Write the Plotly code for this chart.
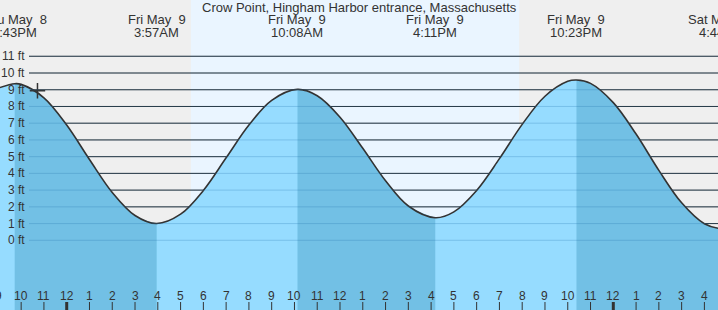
import math
from datetime import datetime
import plotly.graph_objects as go

# ---------------- data ----------------
TITLE = "Crow Point, Hingham Harbor entrance, Massachusetts"
REF_MIDNIGHT = "2025-05-09 00:00"

extreme_times = ["2025-05-08 21:43", "2025-05-09 03:57", "2025-05-09 10:08",
                 "2025-05-09 16:11", "2025-05-09 22:23", "2025-05-10 04:44"]
extreme_levels = [9.36, 1.00, 9.02, 1.35, 9.58, 0.70]
extreme_types = ["H", "L", "H", "L", "H", "L"]

# water level (hours after midnight May 9, feet)
reading_hours = [-3, -2, -1, 0, 1, 2, 3, 5, 6, 7, 8, 9, 11, 12, 13, 14, 15,
                 17, 18, 19, 20, 21, 22, 23, 24, 25, 26, 27, 28, 29]
reading_levels = [9.10, 9.32, 8.52, 6.89, 4.83, 2.86, 1.48, 1.56, 2.98, 4.93,
                  6.89, 8.37, 8.64, 7.36, 5.50, 3.56, 2.05, 1.70, 2.98, 4.88,
                  6.93, 8.61, 9.50, 9.38, 8.23, 6.35, 4.18, 2.24, 0.99, 0.74]

now_time = "2025-05-08 22:43"
now_level = 8.94

sunrise = "2025-05-09 05:27"
sunset = "2025-05-09 19:52"

y_levels = [0, 1, 2, 3, 4, 5, 6, 7, 8, 9, 10, 11]
tick_hours = list(range(-3, 29))

# ---------------- style ----------------
W, H = 718, 310
X_RANGE = [-2.929, 28.597]
Y_RANGE = [-4.166, 14.364]
FONT = "Liberation Sans, Arial, sans-serif"
TXT = "#333333"
NIGHT = "#efefef"
DAY = "#eaf5ff"
WATER = "#96dcff"
WATER_DARK = "#72c0e5"

ref = datetime.strptime(REF_MIDNIGHT, "%Y-%m-%d %H:%M")


def to_h(s):
    d = datetime.strptime(s, "%Y-%m-%d %H:%M")
    return (d - ref).total_seconds() / 3600.0


def to_paper(h):
    return (h - X_RANGE[0]) / (X_RANGE[1] - X_RANGE[0])


ext_h = [to_h(s) for s in extreme_times]
pts = sorted(list(zip(reading_hours, reading_levels)) + list(zip(ext_h, extreme_levels)))
xs = [p[0] for p in pts]
ys = [p[1] for p in pts]
base = Y_RANGE[0] - 1

fig = go.Figure()
# light water
fig.add_trace(go.Scatter(x=[xs[0], xs[-1]], y=[base, base], mode="lines",
                         line=dict(width=0), hoverinfo="skip", showlegend=False))
fig.add_trace(go.Scatter(x=xs, y=ys, mode="lines", line=dict(width=0, shape="spline"),
                         fill="tonexty", fillcolor=WATER, hoverinfo="skip", showlegend=False))
# dark (falling tide) water
for i in range(len(ext_h) - 1):
    if extreme_types[i] == "H":
        a, b = ext_h[i], ext_h[i + 1]
        sx = [x for x in xs if a <= x <= b]
        sy = [y for x, y in zip(xs, ys) if a <= x <= b]
        fig.add_trace(go.Scatter(x=[a, b], y=[base, base], mode="lines",
                                 line=dict(width=0), hoverinfo="skip", showlegend=False))
        fig.add_trace(go.Scatter(x=sx, y=sy, mode="lines", line=dict(width=0, shape="spline"),
                                 fill="tonexty", fillcolor=WATER_DARK,
                                 hoverinfo="skip", showlegend=False))
# outline
fig.add_trace(go.Scatter(x=xs, y=ys, mode="lines",
                         line=dict(color=TXT, width=1.6, shape="spline"),
                         hoverinfo="skip", showlegend=False))
# current time marker
fig.add_trace(go.Scatter(x=[to_h(now_time)], y=[now_level], mode="markers",
                         marker=dict(symbol="cross-thin", size=11,
                                     line=dict(color=TXT, width=1.5)),
                         hoverinfo="skip", showlegend=False))

shapes = []
shapes.append(dict(type="rect", xref="x", yref="paper", x0=to_h(sunrise), x1=to_h(sunset),
                   y0=0, y1=1, fillcolor=DAY, line=dict(width=0), layer="below"))
gx0 = 29 / W
for lv in y_levels:
    shapes.append(dict(type="line", xref="paper", yref="y", x0=gx0, x1=1, y0=lv, y1=lv,
                       line=dict(color="#2a2a2a", width=1), layer="below"))
for lv in y_levels:
    shapes.append(dict(type="line", xref="paper", yref="y", x0=gx0, x1=1, y0=lv, y1=lv,
                       line=dict(color="rgba(30,110,170,0.25)", width=1), layer="above"))
for h in tick_hours:
    shapes.append(dict(type="line", xref="x", yref="paper", x0=h, x1=h, y0=0, y1=8 / H,
                       line=dict(color=TXT, width=3 if h % 24 == 0 else 1), layer="above"))

ann = []
ann.append(dict(text=TITLE, xref="paper", yref="paper", x=359.5 / W, y=1 - 8 / H,
                xanchor="center", yanchor="middle", showarrow=False,
                font=dict(family=FONT, size=13, color=TXT)))
for s in extreme_times:
    d = datetime.strptime(s, "%Y-%m-%d %H:%M")
    l1 = f"{d.strftime('%a')} {d.strftime('%b')} {d.day:>2}".replace("  ", " \u00a0")
    hr = d.hour % 12 or 12
    l2 = f"{hr}:{d.minute:02d}{'AM' if d.hour < 12 else 'PM'}"
    px = to_paper(to_h(s))
    for txt, yy in ((l1, 20), (l2, 32)):
        ann.append(dict(text=txt, xref="paper", yref="paper", x=px, y=1 - yy / H,
                        xanchor="center", yanchor="middle", showarrow=False,
                        font=dict(family=FONT, size=13, color=TXT)))
for lv in y_levels:
    ann.append(dict(text=f"{lv} ft", xref="paper", yref="y", x=27 / W, y=lv,
                    xanchor="right", yanchor="middle", showarrow=False,
                    font=dict(family=FONT, size=12, color=TXT)))
for h in tick_hours:
    ann.append(dict(text=str(h % 12 or 12), xref="paper", yref="paper", x=to_paper(h),
                    y=(H - 295.6) / H, xanchor="center", yanchor="middle", showarrow=False,
                    font=dict(family=FONT, size=12, color=TXT)))

fig.update_layout(
    width=W, height=H, margin=dict(l=0, r=0, t=0, b=0),
    paper_bgcolor=NIGHT, plot_bgcolor=NIGHT,
    xaxis=dict(range=X_RANGE, visible=False, fixedrange=True),
    yaxis=dict(range=Y_RANGE, visible=False, fixedrange=True),
    shapes=shapes, annotations=ann, hovermode=False,
    font=dict(family=FONT, color=TXT),
)
fig.write_html("out.html")
